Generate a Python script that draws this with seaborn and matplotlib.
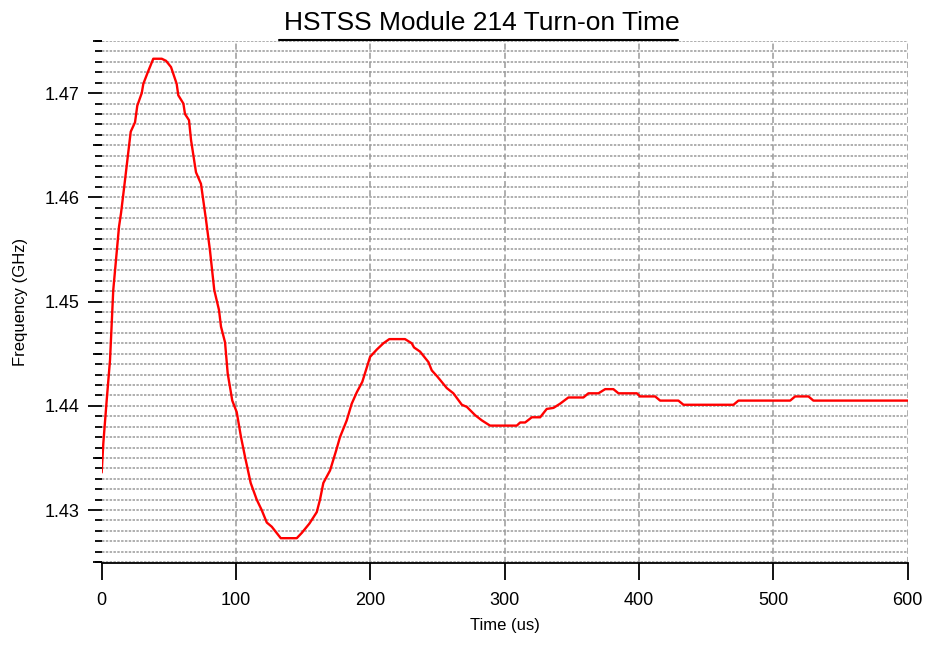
import numpy as np
import pandas as pd
import matplotlib
matplotlib.use("Agg")
import matplotlib.pyplot as plt
from matplotlib.ticker import MultipleLocator, FixedLocator
from matplotlib.lines import Line2D
import seaborn as sns

# ---- data ----
time_us = [0.0, 1.2, 3.7, 6.2, 8.6, 12.9, 14.4, 17.3, 21.6, 24.8, 26.5, 29.8, 31.0, 34.3,
           38.4, 44.7, 47.9, 51.6, 55.8, 57.0, 60.8, 62.0, 65.0, 66.5, 70.2, 73.9, 77.7,
           80.6, 83.8, 87.3, 88.8, 91.8, 93.8, 97.2, 100.5, 103.7, 106.7, 110.9, 115.4,
           119.1, 122.9, 126.6, 133.3, 145.2, 148.9, 154.6, 160.1, 162.5, 165.0, 170.0,
           174.5, 177.4, 182.4, 186.1, 189.9, 194.0, 199.8, 204.8, 209.7, 214.1, 225.8,
           230.8, 232.5, 237.0, 243.2, 245.7, 249.9, 256.9, 261.8, 268.1, 271.8, 278.0,
           283.0, 289.1, 309.0, 311.5, 315.2, 320.2, 326.4, 331.3, 336.3, 341.2, 347.4,
           358.6, 362.3, 369.8, 374.8, 380.9, 384.7, 398.4, 400.8, 412.0, 415.7, 429.3,
           433.1, 470.3, 474.0, 512.5, 516.2, 526.1, 529.8, 600.0]
freq_ghz = [1.4336, 1.4364, 1.4405, 1.4444, 1.4511, 1.4572, 1.4585, 1.4616, 1.4663, 1.4672,
            1.4688, 1.4700, 1.4709, 1.4720, 1.4733, 1.4733, 1.4731, 1.4725, 1.4709, 1.4698,
            1.4690, 1.4680, 1.4674, 1.4655, 1.4624, 1.4613, 1.4578, 1.4549, 1.4511, 1.4492,
            1.4476, 1.4461, 1.4431, 1.4405, 1.4394, 1.4370, 1.4351, 1.4326, 1.4310, 1.4300,
            1.4288, 1.4284, 1.4273, 1.4273, 1.4278, 1.4287, 1.4298, 1.4310, 1.4326, 1.4338,
            1.4357, 1.4370, 1.4386, 1.4402, 1.4413, 1.4423, 1.4447, 1.4454, 1.4460, 1.4464,
            1.4464, 1.4460, 1.4456, 1.4452, 1.4442, 1.4434, 1.4428, 1.4417, 1.4412, 1.4401,
            1.4399, 1.4391, 1.4386, 1.4381, 1.4381, 1.4384, 1.4384, 1.4389, 1.4389, 1.4397,
            1.4398, 1.4402, 1.4408, 1.4408, 1.4412, 1.4412, 1.4416, 1.4416, 1.4412, 1.4412,
            1.4409, 1.4409, 1.4405, 1.4405, 1.4401, 1.4401, 1.4405, 1.4405, 1.4409, 1.4409,
            1.4405, 1.4405]
x_ticks = [0, 100, 200, 300, 400, 500, 600]
y_major_ticks = [1.43, 1.44, 1.45, 1.46, 1.47]
y_major_labels = ["1.43", "1.44", "1.45", "1.46", "1.47"]
y_mid_ticks = [1.425, 1.435, 1.445, 1.455, 1.465, 1.475]
title_text = "HSTSS Module 214 Turn-on Time"
x_label = "Time (us)"
y_label = "Frequency (GHz)"

df = pd.DataFrame({"Time": time_us, "Frequency": freq_ghz})

sns.set_theme(style="white")
plt.rcParams["font.family"] = ["Liberation Sans", "DejaVu Sans"]
plt.rcParams["text.color"] = "black"
plt.rcParams["axes.labelcolor"] = "black"
plt.rcParams["xtick.color"] = "black"
plt.rcParams["ytick.color"] = "black"

W, H = 928, 648
fig = plt.figure(figsize=(W / 100, H / 100), dpi=100)
ax = fig.add_axes([101.7 / W, 1 - 563.3 / H, (907.7 - 101.7) / W, (563.3 - 40.5) / H])

sns.lineplot(data=df, x="Time", y="Frequency", ax=ax, color="#ff0000",
             linewidth=1.7, sort=False, estimator=None, zorder=5)

ax.set_xlim(0, 600)
ax.set_ylim(1.42489, 1.47505)

# spines
for s in ["left", "top", "right"]:
    ax.spines[s].set_visible(False)
ax.spines["bottom"].set_color("black")
ax.spines["bottom"].set_linewidth(1.3)

# x ticks
ax.xaxis.set_major_locator(FixedLocator(x_ticks))
ax.set_xticklabels([str(v) for v in x_ticks])
ax.tick_params(axis="x", which="major", direction="out", length=12, width=1.3,
               color="black", labelcolor="black", labelsize=13, pad=9, bottom=True)

# y ticks: major (long), minor every 0.001 (short)
ax.yaxis.set_major_locator(FixedLocator(y_major_ticks))
ax.set_yticklabels(y_major_labels)
ax.yaxis.set_minor_locator(MultipleLocator(0.001))
ax.tick_params(axis="y", which="major", direction="out", length=10, width=1.3,
               color="black", labelcolor="black", labelsize=13, pad=6, left=True)
ax.tick_params(axis="y", which="minor", direction="out", length=5.2, width=1.3,
               color="black", left=True)

# medium ticks at the half-decades
sec = ax.secondary_yaxis("left")
sec.yaxis.set_major_locator(FixedLocator(y_mid_ticks))
sec.set_yticklabels([])
sec.tick_params(axis="y", which="major", direction="out", length=6.8, width=1.3, color="black")
sec.yaxis.set_minor_locator(FixedLocator([]))
sec.spines["left"].set_visible(False)

# grid
ax.grid(False)
ax.yaxis.grid(True, which="both", color="#9a9a9a", linestyle=(0, (1.6, 0.9)), linewidth=1.1)
ax.xaxis.grid(True, which="major", color="#9a9a9a", linestyle=(0, (4, 2)), linewidth=1.1)
ax.set_axisbelow(True)
fig.canvas.draw()
ax.xaxis.get_gridlines()[0].set_visible(False)

ax.set_xlabel(x_label, fontsize=12, labelpad=6, color="black")
ax.set_ylabel(y_label, fontsize=12, labelpad=12, color="black")

# underlined title
fig.text(481.5 / W, 1 - 23.5 / H, title_text, ha="center", va="center", fontsize=19,
         color="black")
fig.add_artist(Line2D([279 / W, 678 / W], [1 - 39.5 / H, 1 - 39.5 / H],
                      transform=fig.transFigure, color="black", linewidth=1.5))

fig.savefig("out.png", dpi=100)
